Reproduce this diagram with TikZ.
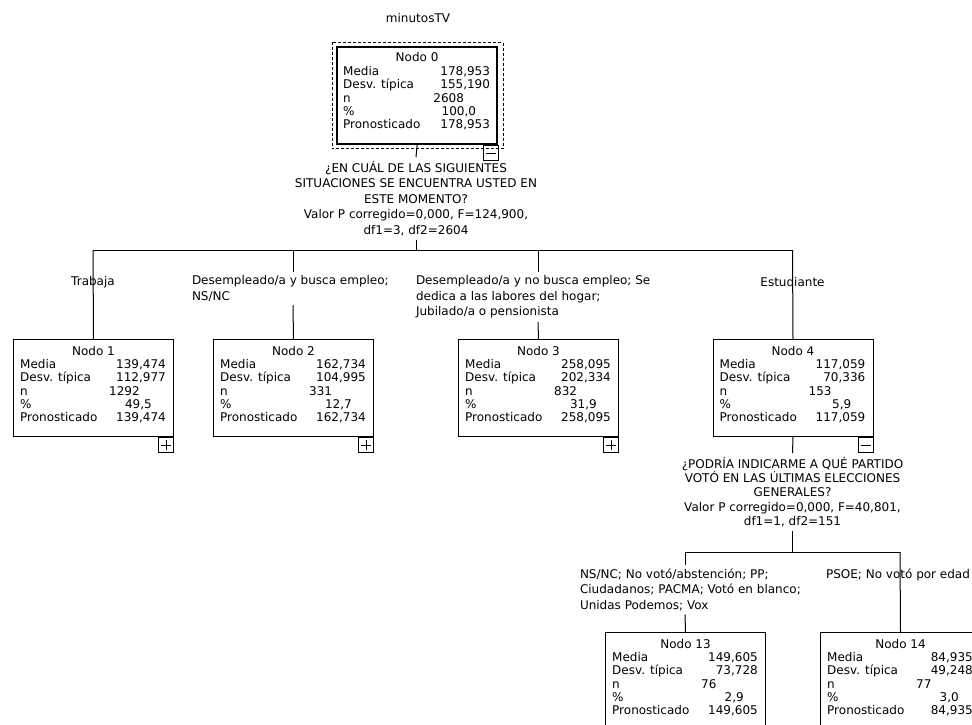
\documentclass[tikz,border=0pt]{standalone}
\usepackage{fontspec}
\setmainfont{DejaVu Sans}
\usetikzlibrary{calc}
\tikzset{
  txt/.style={font=\fontsize{12}{15.5}\selectfont, inner sep=0pt},
  statbox/.style={draw, line width=1pt, minimum width=160pt, minimum height=97pt, inner sep=0pt, anchor=north west},
  rootbox/.style={statbox, line width=2.2pt},
  togbox/.style={draw, line width=1pt, minimum width=15pt, minimum height=15pt, inner sep=0pt, anchor=north east},
  conn/.style={line width=1pt},
  lbl/.style={txt, align=left, anchor=north west, outer sep=4pt},
  qtext/.style={txt, align=center, anchor=north, outer sep=4pt},
}
\newcommand\statnode[9]{%
  \node[#9] (#1) at (#2) {};
  \node[txt, anchor=base] (#1h) at ($(#1.north)+(0,16)$) {Nodo #3};
  \node[txt, anchor=base west] (#1a) at ($(#1.north west)+(7,29.5)$) {Media};
  \node[txt, anchor=base west] (#1b) at ($(#1.north west)+(7,42.8)$) {Desv. típica};
  \node[txt, anchor=base west] (#1c) at ($(#1.north west)+(7,56.1)$) {n};
  \node[txt, anchor=base west] (#1d) at ($(#1.north west)+(7,69.4)$) {\%};
  \node[txt, anchor=base west] (#1e) at ($(#1.north west)+(7,82.7)$) {Pronosticado};
  \node[txt, anchor=base east] (#1A) at ($(#1.north east)+(-8,29.5)$) {#4};
  \node[txt, anchor=base east] (#1B) at ($(#1.north east)+(-8,42.8)$) {#5};
  \node[txt, anchor=base west] (#1C) at ($(#1.north east)+(-65,56.1)$) {#6};
  \node[txt, anchor=base east] (#1D) at ($(#1.north east)+(-22,69.4)$) {#7};
  \node[txt, anchor=base east] (#1E) at ($(#1.north east)+(-8,82.7)$) {#8};
}
\newcommand\togplus[2]{%
  \node[togbox] (#1) at (#2) {};
  \draw[line width=0.9pt] ($(#1.center)+(-5,0)$) -- ($(#1.center)+(5,0)$);
  \draw[line width=0.9pt] ($(#1.center)+(0,-5)$) -- ($(#1.center)+(0,5)$);
}
\newcommand\togminus[2]{%
  \node[togbox] (#1) at (#2) {};
  \draw[line width=0.9pt] ($(#1.center)+(-5,0)$) -- ($(#1.center)+(5,0)$);
}
\begin{document}
\begin{tikzpicture}[x=1pt,y=-1pt]
\useasboundingbox (0,0) rectangle (972,725);
\clip (0,0) rectangle (972,725);
\fill[white] (0,0) rectangle (972,725);

\node[txt] (title) at (418,18) {minutosTV};

% root
\statnode{n0}{336,46}{0}{178,953}{155,190}{2608}{100,0}{178,953}{rootbox}
\draw[line width=1pt, dash pattern=on 3pt off 2pt] ($(n0.north west)+(-3.5,-3.5)$) rectangle ($(n0.south east)+(5,3.5)$);
\togminus{t0}{$(n0.south east)+(1,0)$}

\node[qtext] (q0) at (416,157) {¿EN CUÁL DE LAS SIGUIENTES\\SITUACIONES SE ENCUENTRA USTED EN\\ESTE MOMENTO?\\Valor P corregido=0,000, F=124,900,\\df1=3, df2=2604};
\draw[conn] (n0.south) -- (q0.north);

\coordinate (b1) at (93,250);
\coordinate (b2) at (293,250);
\coordinate (b3) at (538,250);
\coordinate (b4) at (792.5,250);
\draw[conn] (q0.south) -- (q0.south |- b1);
\draw[conn] (b1) -- (b4);

% level 1
\statnode{n1}{13,339}{1}{139,474}{112,977}{1292}{49,5}{139,474}{statbox}
\statnode{n2}{213,339}{2}{162,734}{104,995}{331}{12,7}{162,734}{statbox}
\statnode{n3}{458,339}{3}{258,095}{202,334}{832}{31,9}{258,095}{statbox}
\statnode{n4}{712.5,339}{4}{117,059}{70,336}{153}{5,9}{117,059}{statbox}
\togplus{t1}{n1.south east}
\togplus{t2}{n2.south east}
\togplus{t3}{n3.south east}
\togminus{t4}{n4.south east}

\node[txt] (l1) at (93,282) {Trabaja};
\node[lbl] (l2) at (188,271.5) {Desempleado/a y busca empleo;\\NS/NC};
\node[lbl] (l3) at (412,271.5) {Desempleado/a y no busca empleo; Se\\dedica a las labores del hogar;\\Jubilado/a o pensionista};
\node[txt] (l4) at (792.5,282) {Estudiante};

\draw[conn] (b1) -- (n1.north);
\draw[conn] (b2) -- (b2 |- l2.north);
\draw[conn] (b2 |- l2.south) -- (n2.north);
\draw[conn] (b3) -- (b3 |- l3.north);
\draw[conn] (b3 |- l3.south) -- (n3.north);
\draw[conn] (b4) -- (n4.north);

\node[qtext, font=\fontsize{12}{14.3}\selectfont] (q4) at (792.5,453) {¿PODRÍA INDICARME A QUÉ PARTIDO\\VOTÓ EN LAS ÚLTIMAS ELECCIONES\\GENERALES?\\Valor P corregido=0,000, F=40,801,\\df1=1, df2=151};
\draw[conn] (n4.south) -- (q4.north);

\coordinate (c13) at (685,552);
\coordinate (c14) at (900,552);
\draw[conn] (q4.south) -- (q4.south |- c13);
\draw[conn] (c13) -- (c14);

\statnode{n13}{605,632}{13}{149,605}{73,728}{76}{2,9}{149,605}{statbox}
\statnode{n14}{820,632}{14}{84,935}{49,248}{77}{3,0}{84,935}{statbox}

\node[lbl] (l13) at (576,564.5) {NS/NC; No votó/abstención; PP;\\Ciudadanos; PACMA; Votó en blanco;\\Unidas Podemos; Vox};
\node[txt] (l14) at (898,575) {PSOE; No votó por edad};

\draw[conn] (c13) -- (c13 |- l13.north);
\draw[conn] (c13 |- l13.south) -- (n13.north);
\draw[conn] (c14) -- (n14.north);
\end{tikzpicture}
\end{document}
